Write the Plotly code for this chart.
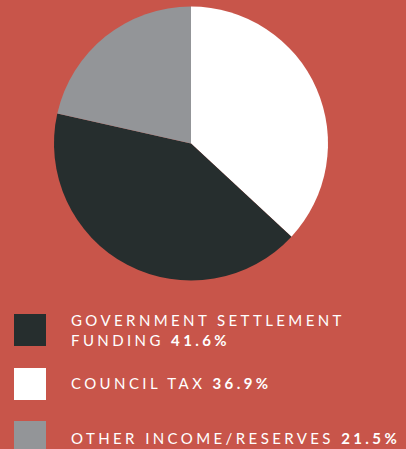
import plotly.graph_objects as go

# Data (legend order)
labels = ["GOVERNMENT SETTLEMENT<br>FUNDING", "COUNCIL TAX", "OTHER INCOME/RESERVES"]
values = [41.6, 36.9, 21.5]
colors = ["#262E2E", "#FFFFFF", "#939598"]
pie_order = [1, 0, 2]  # clockwise from 12 o'clock: council tax, government, other

W, H = 406, 449
BG = "#C8554A"

fig = go.Figure()
fig.add_trace(go.Pie(
    labels=[labels[i] for i in pie_order],
    values=[values[i] for i in pie_order],
    marker=dict(colors=[colors[i] for i in pie_order], line=dict(width=0)),
    sort=False,
    direction="clockwise",
    rotation=0,
    textinfo="none",
    hoverinfo="skip",
    showlegend=False,
    domain=dict(x=[54 / W, 328 / W], y=[1 - 280.5 / H, 1 - 6.5 / H]),
))

# Legend rows (pixel geometry)
square_tops = [314, 368, 421]
text_centers = [329.5, 383, 437.5]
shapes = []
annotations = []
for i in range(len(labels)):
    t = square_tops[i]
    shapes.append(dict(type="rect", xref="paper", yref="paper",
                       x0=14 / W, x1=46 / W, y0=1 - (t + 32) / H, y1=1 - t / H,
                       fillcolor=colors[i], line=dict(width=0), layer="above"))
    annotations.append(dict(
        xref="paper", yref="paper", x=69 / W, y=1 - text_centers[i] / H,
        xanchor="left", yanchor="middle", align="left", showarrow=False,
        text=f"{labels[i]} <b>{values[i]:.1f}%</b>",
        font=dict(family="Lato", size=15, color="#FFFFFF"),
    ))

fig.update_layout(
    width=W, height=H,
    margin=dict(l=0, r=0, t=0, b=0),
    paper_bgcolor=BG, plot_bgcolor=BG,
    shapes=shapes, annotations=annotations,
)

post = ("var s=document.createElement('style');"
        "s.innerHTML='html,body{margin:0;padding:0;overflow:hidden;background:" + BG + ";}"
        ".annotation-text{letter-spacing:3.4px;}';"
        "document.head.appendChild(s);")
fig.write_html("out.html", post_script=post, config={"displayModeBar": False})
